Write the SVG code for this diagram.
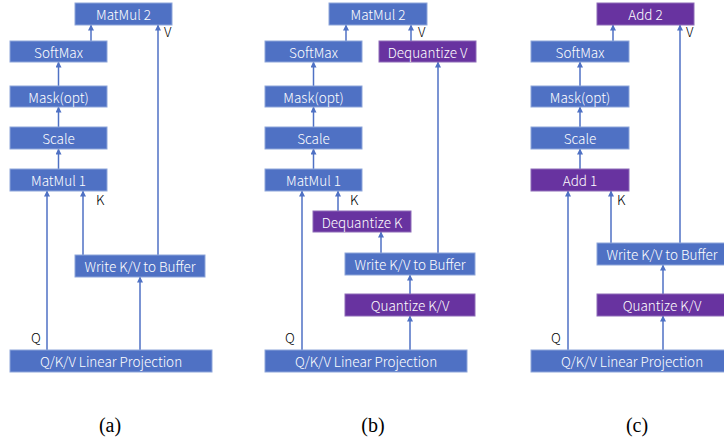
<svg xmlns="http://www.w3.org/2000/svg" width="724" height="441" viewBox="0 0 724 441">
<style>
.b{fill:#4F71C4;stroke:#8EA6DA;stroke-width:1}
.p{fill:#6833A0;stroke:#8E6CB8;stroke-width:1}
.t{font-family:"Noto Sans CJK SC","Noto Sans",sans-serif;font-size:13.5px;font-weight:300;fill:#fff;text-anchor:middle;dominant-baseline:central}
.l{font-family:"Noto Sans CJK SC","Noto Sans",sans-serif;font-size:13.5px;font-weight:300;fill:#000}
.c{stroke:#4F71C4;stroke-width:1.5;fill:none;marker-end:url(#a)}
.cap{font-family:"Liberation Serif",serif;font-size:20px;fill:#000;text-anchor:middle}
</style>
<defs>
<marker id="a" viewBox="0 0 6 6" refX="5.5" refY="3" markerWidth="4" markerHeight="4" orient="auto" markerUnits="strokeWidth">
<path d="M0,0L6,3L0,6z" fill="#4F71C4"/>
</marker>
</defs>
<rect width="724" height="441" fill="#fff"/>
<g id="connectors">
<line class="c" x1="91" y1="41" x2="91" y2="25"/>
<line class="c" x1="58.5" y1="86" x2="58.5" y2="62"/>
<line class="c" x1="58.5" y1="127" x2="58.5" y2="107"/>
<line class="c" x1="58.5" y1="169" x2="58.5" y2="149"/>
<line class="c" x1="47" y1="350" x2="47" y2="191"/>
<line class="c" x1="83" y1="255" x2="83" y2="191"/>
<line class="c" x1="158" y1="255" x2="158" y2="25"/>
<line class="c" x1="140" y1="350" x2="140" y2="277"/>
<line class="c" x1="346" y1="41" x2="346" y2="25"/>
<line class="c" x1="411" y1="41" x2="411" y2="25"/>
<line class="c" x1="313.5" y1="86" x2="313.5" y2="62"/>
<line class="c" x1="313.5" y1="127" x2="313.5" y2="107"/>
<line class="c" x1="313.5" y1="169" x2="313.5" y2="149"/>
<line class="c" x1="302" y1="350" x2="302" y2="191"/>
<line class="c" x1="338" y1="211" x2="338" y2="191"/>
<line class="c" x1="381" y1="253" x2="381" y2="232"/>
<line class="c" x1="438" y1="253" x2="438" y2="62"/>
<line class="c" x1="410" y1="294" x2="410" y2="275"/>
<line class="c" x1="410" y1="350" x2="410" y2="316"/>
<line class="c" x1="613" y1="41" x2="613" y2="25"/>
<line class="c" x1="580" y1="86" x2="580" y2="62"/>
<line class="c" x1="580" y1="127" x2="580" y2="107"/>
<line class="c" x1="580" y1="169" x2="580" y2="149"/>
<line class="c" x1="568" y1="350" x2="568" y2="191"/>
<line class="c" x1="611" y1="243" x2="611" y2="191"/>
<line class="c" x1="680" y1="243" x2="680" y2="25"/>
<line class="c" x1="663" y1="294" x2="663" y2="265"/>
<line class="c" x1="663" y1="350" x2="663" y2="316"/>
</g>
<g id="a-matmul2"><rect class="b" x="75" y="3" width="97" height="22"/><text class="t" x="123.5" y="14">MatMul 2</text></g>
<g id="a-softmax"><rect class="b" x="10" y="41" width="97" height="21"/><text class="t" x="58.5" y="51.5">SoftMax</text></g>
<g id="a-mask"><rect class="b" x="10" y="86" width="97" height="21"/><text class="t" x="58.5" y="96.5">Mask(opt)</text></g>
<g id="a-scale"><rect class="b" x="10" y="127" width="97" height="22"/><text class="t" x="58.5" y="138">Scale</text></g>
<g id="a-matmul1"><rect class="b" x="10" y="169" width="97" height="22"/><text class="t" x="58.5" y="180">MatMul 1</text></g>
<g id="a-write"><rect class="b" x="75" y="255" width="130" height="22"/><text class="t" x="140" y="266">Write K/V to Buffer</text></g>
<g id="a-proj"><rect class="b" x="10" y="350" width="202" height="22"/><text class="t" x="111" y="361">Q/K/V Linear Projection</text></g>
<g id="a-labels"><text class="l" x="164" y="37">V</text><text class="l" x="96" y="205">K</text><text class="l" x="31" y="343">Q</text></g>

<g id="b-matmul2"><rect class="b" x="329" y="3" width="98" height="22"/><text class="t" x="378" y="14">MatMul 2</text></g>
<g id="b-softmax"><rect class="b" x="265" y="41" width="97" height="21"/><text class="t" x="313.5" y="51.5">SoftMax</text></g>
<g id="b-deqv"><rect class="p" x="379" y="41" width="97" height="21"/><text class="t" x="427.5" y="51.5">Dequantize V</text></g>
<g id="b-mask"><rect class="b" x="265" y="86" width="97" height="21"/><text class="t" x="313.5" y="96.5">Mask(opt)</text></g>
<g id="b-scale"><rect class="b" x="265" y="127" width="97" height="22"/><text class="t" x="313.5" y="138">Scale</text></g>
<g id="b-matmul1"><rect class="b" x="265" y="169" width="97" height="22"/><text class="t" x="313.5" y="180">MatMul 1</text></g>
<g id="b-deqk"><rect class="p" x="313" y="211" width="98" height="21"/><text class="t" x="362" y="221.5">Dequantize K</text></g>
<g id="b-write"><rect class="b" x="345" y="253" width="130" height="22"/><text class="t" x="410" y="264">Write K/V to Buffer</text></g>
<g id="b-quant"><rect class="p" x="345" y="294" width="130" height="22"/><text class="t" x="410" y="305">Quantize K/V</text></g>
<g id="b-proj"><rect class="b" x="265" y="350" width="202" height="22"/><text class="t" x="366" y="361">Q/K/V Linear Projection</text></g>
<g id="b-labels"><text class="l" x="418" y="37">V</text><text class="l" x="350" y="205">K</text><text class="l" x="285" y="343">Q</text></g>

<g id="c-add2"><rect class="p" x="597" y="3" width="97" height="22"/><text class="t" x="645.5" y="14">Add 2</text></g>
<g id="c-softmax"><rect class="b" x="531" y="41" width="98" height="21"/><text class="t" x="580" y="51.5">SoftMax</text></g>
<g id="c-mask"><rect class="b" x="531" y="86" width="98" height="21"/><text class="t" x="580" y="96.5">Mask(opt)</text></g>
<g id="c-scale"><rect class="b" x="531" y="127" width="98" height="22"/><text class="t" x="580" y="138">Scale</text></g>
<g id="c-add1"><rect class="p" x="531" y="169" width="98" height="22"/><text class="t" x="580" y="180">Add 1</text></g>
<g id="c-write"><rect class="b" x="597" y="243" width="130" height="22"/><text class="t" x="662" y="254">Write K/V to Buffer</text></g>
<g id="c-quant"><rect class="p" x="597" y="294" width="130" height="22"/><text class="t" x="662" y="305">Quantize K/V</text></g>
<g id="c-proj"><rect class="b" x="531" y="350" width="202" height="22"/><text class="t" x="632" y="361">Q/K/V Linear Projection</text></g>
<g id="c-labels"><text class="l" x="686" y="37">V</text><text class="l" x="617" y="205">K</text><text class="l" x="551" y="343">Q</text></g>

<g id="captions"><text class="cap" x="110" y="432">(a)</text><text class="cap" x="373" y="432">(b)</text><text class="cap" x="637" y="432">(c)</text></g>
</svg>
